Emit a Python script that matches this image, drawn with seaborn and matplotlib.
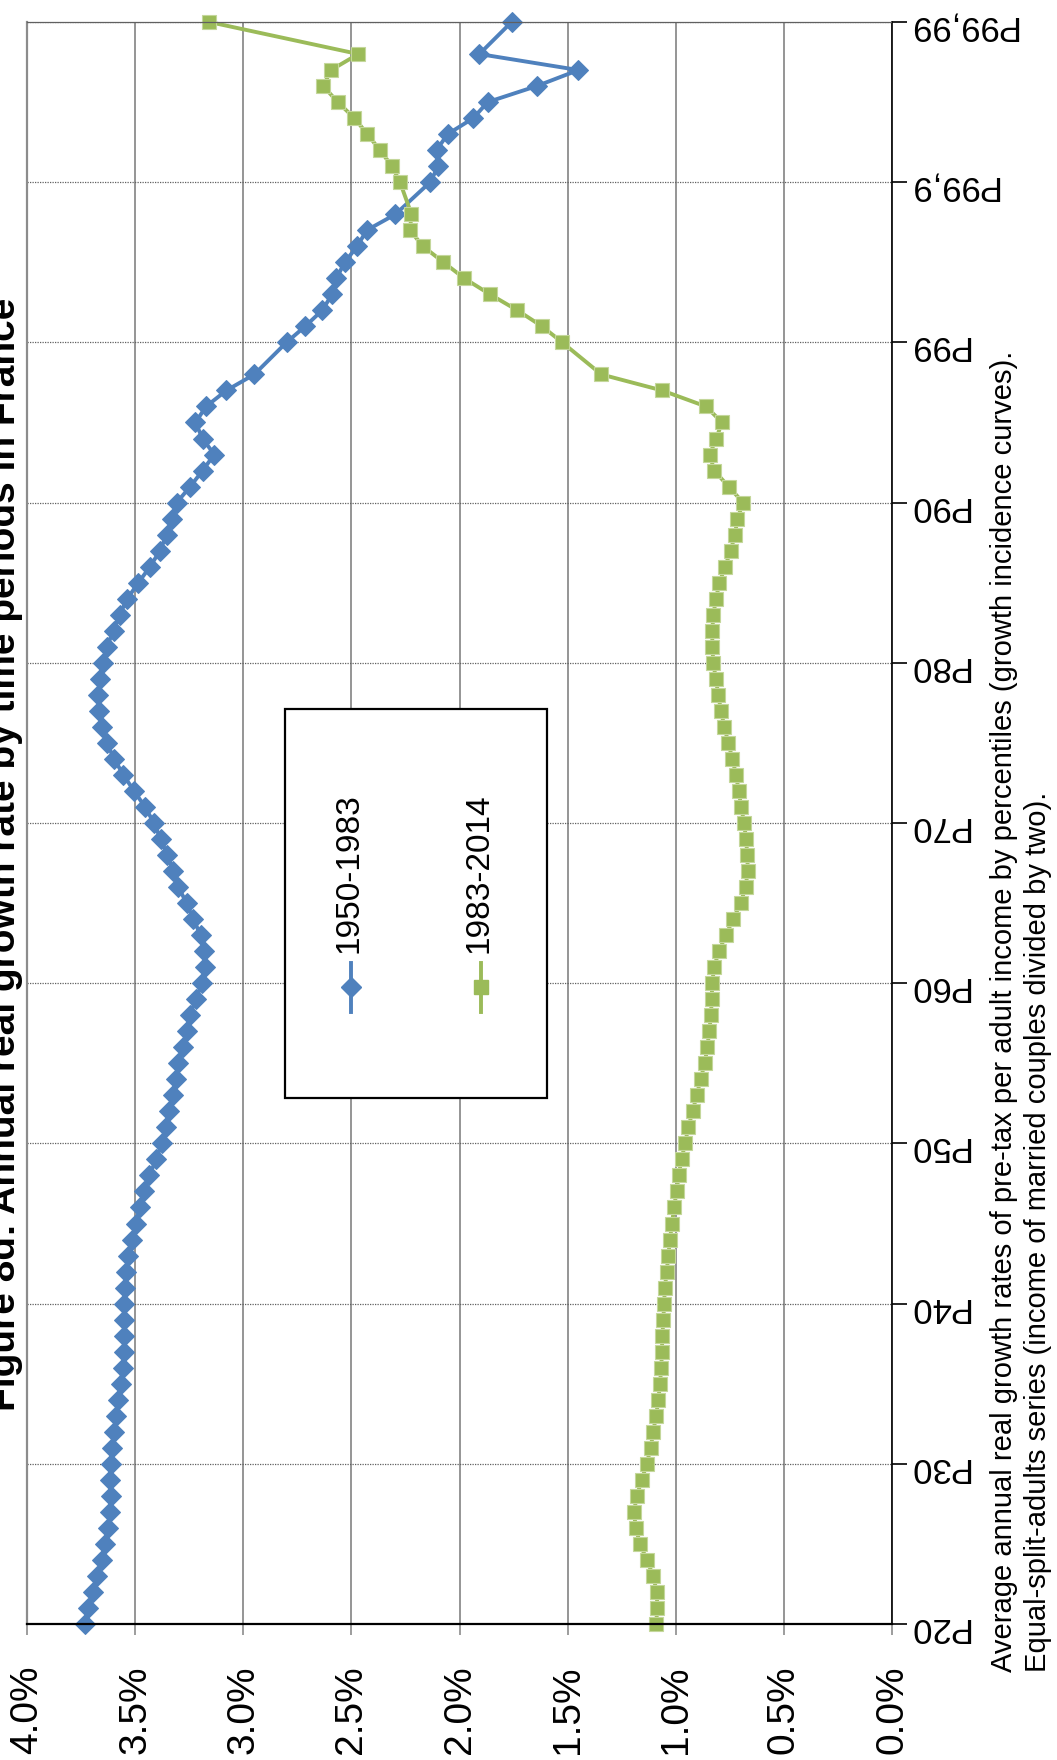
import numpy as np
import pandas as pd
import seaborn as sns
import matplotlib
matplotlib.use("Agg")
import matplotlib.pyplot as plt
from matplotlib.patches import Rectangle
from matplotlib.lines import Line2D

nan = np.nan

# category axis of g-percentiles ("" = empty slot on the Excel category axis)
categories = ([f"P{p}" for p in range(20, 99)] + [""] + ["P99"]
              + [f"P99.{d}" for d in range(1, 9)] + [""] + ["P99.9"]
              + [f"P99.9{d}" for d in range(1, 9)] + [""] + ["P99.99"])

tick_cats = ["P20", "P30", "P40", "P50", "P60", "P70", "P80", "P90", "P99", "P99.9", "P99.99"]
tick_text = ["P20", "P30", "P40", "P50", "P60", "P70", "P80", "P90", "P99", "P99,9", "P99,99"]

# annual real growth rate, %
growth_1950_1983 = [
    3.732, 3.716, 3.696, 3.675, 3.655, 3.639, 3.624, 3.616, 3.613, 3.616,
    3.613, 3.608, 3.597, 3.588, 3.577, 3.567, 3.557, 3.551, 3.551, 3.551,
    3.551, 3.547, 3.542, 3.531, 3.516, 3.496, 3.477, 3.459, 3.434, 3.403,
    3.377, 3.357, 3.342, 3.326, 3.311, 3.300, 3.280, 3.262, 3.246, 3.220,
    3.190, 3.177, 3.182, 3.197, 3.231, 3.262, 3.300, 3.323, 3.351, 3.382,
    3.413, 3.454, 3.505, 3.554, 3.597, 3.631, 3.655, 3.665, 3.670, 3.662,
    3.650, 3.631, 3.600, 3.572, 3.536, 3.485, 3.431, 3.385, 3.354, 3.331,
    3.308, 3.245, 3.188, 3.134, 3.188, 3.221, 3.172, 3.078, 2.949, nan,
    2.800, 2.714, 2.635, 2.589, 2.569, 2.531, 2.473, 2.429, 2.296, nan,
    2.136, 2.098, 2.106, 2.055, 1.936, 1.870, 1.643, 1.450, 1.908, nan,
    1.759]

growth_1983_2014 = [
    1.091, 1.085, 1.088, 1.104, 1.134, 1.165, 1.185, 1.193, 1.180, 1.157,
    1.134, 1.116, 1.104, 1.091, 1.080, 1.073, 1.067, 1.064, 1.062, 1.057,
    1.054, 1.050, 1.042, 1.034, 1.027, 1.017, 1.008, 0.996, 0.987, 0.973,
    0.957, 0.942, 0.922, 0.903, 0.885, 0.866, 0.854, 0.845, 0.837, 0.834,
    0.831, 0.823, 0.800, 0.769, 0.734, 0.700, 0.677, 0.667, 0.669, 0.675,
    0.684, 0.697, 0.709, 0.721, 0.738, 0.757, 0.775, 0.791, 0.803, 0.815,
    0.826, 0.831, 0.831, 0.826, 0.814, 0.798, 0.772, 0.746, 0.726, 0.715,
    0.688, 0.756, 0.822, 0.843, 0.813, 0.786, 0.860, 1.063, 1.344, nan,
    1.525, 1.618, 1.732, 1.859, 1.978, 2.074, 2.169, 2.229, 2.222, nan,
    2.275, 2.312, 2.368, 2.426, 2.486, 2.563, 2.630, 2.594, 2.468, nan,
    3.157]

series_names = ["1950-1983", "1983-2014"]
title = "Figure 8d: Annual real growth rate by time periods in France"
note1 = ("Average annual real growth rates of pre-tax per adult income by "
         "percentiles (growth incidence curves).")
note2 = "Equal-split-adults series (income of married couples divided by two)."

BLUE = "#4F81BD"
GREEN = "#9BBB59"
W, H = 1057, 1760

plt.rcParams["font.family"] = ["Liberation Sans", "DejaVu Sans"]

df = pd.DataFrame({"slot": np.arange(len(categories)),
                   "g1": growth_1950_1983, "g2": growth_1983_2014})

fig = plt.figure(figsize=(W / 100, H / 100), dpi=100)
ax = fig.add_axes([27 / W, 1 - 1624 / H, (892 - 27) / W, (1624 - 22) / H])

sns.lineplot(data=df.dropna(subset=["g1"]), x="g1", y="slot", orient="y",
             sort=False, estimator=None, color=BLUE, lw=2.8, marker="D",
             markersize=10, markeredgecolor=BLUE, ax=ax)
sns.lineplot(data=df.dropna(subset=["g2"]), x="g2", y="slot", orient="y",
             sort=False, estimator=None, color=GREEN, lw=2.8, marker="s",
             markersize=9.8, markeredgecolor="#c4d79b", markeredgewidth=0.8, ax=ax)
for ln in ax.lines:
    ln.set_clip_on(False)

ax.set_xlim(4, 0)
ax.set_ylim(0, len(categories) - 1)
ax.set_xlabel("")
ax.set_ylabel("")

xt = np.arange(0, 4.01, 0.5)
ax.set_xticks(xt)
ax.set_xticklabels([f"{v:.1f}%" for v in xt])
ax.set_yticks([categories.index(c) for c in tick_cats])
ax.set_yticklabels(tick_text)
ax.yaxis.tick_right()

ax.grid(axis="x", color="#8c8c8c", lw=1.3, ls="-")
ax.grid(axis="y", color="#606060", lw=0.9, ls=(0, (1, 1)))
ax.set_axisbelow(True)

ax.tick_params(axis="x", direction="out", length=8, width=1.2, color="#8c8c8c",
               labelsize=28, pad=22, labelrotation=90)
ax.tick_params(axis="y", direction="out", length=11, width=1.2, color="black",
               labelsize=25, pad=0, labelrotation=180, left=False, right=True)

ax.spines["left"].set_color("#8c8c8c")
ax.spines["left"].set_linewidth(1.6)
ax.spines["right"].set_color("black")
ax.spines["right"].set_linewidth(1.2)
ax.spines["bottom"].set_color("black")
ax.spines["bottom"].set_linewidth(1.6)
ax.spines["top"].set_color("#606060")
ax.spines["top"].set_linewidth(0.9)
ax.spines["top"].set_linestyle((0, (1, 1)))

# legend box (drawn by hand so that the entries can stand vertical)
fig.add_artist(Rectangle((285 / W, 1 - 1098 / H), (547 - 285) / W, (1098 - 709) / H,
                         transform=fig.transFigure, facecolor="white",
                         edgecolor="black", lw=1.6, zorder=5))
for xc, col, mk, ms, name in [(350.7, BLUE, "D", 10, series_names[0]),
                              (481, GREEN, "s", 9.8, series_names[1])]:
    fig.add_artist(Line2D([xc / W] * 3, [1 - 963 / H, 1 - 987.5 / H, 1 - 1012 / H],
                          transform=fig.transFigure, color=col, lw=2.8,
                          marker=mk, markersize=ms, markevery=[1],
                          markeredgecolor=col, zorder=6))
    fig.text((xc - 2) / W, 1 - 953 / H, name, rotation=90, ha="center",
             va="bottom", fontsize=24, zorder=6)

fig.text(23 / W, 1 - 854 / H, title, rotation=90, ha="right", va="center",
         fontsize=28, fontweight="bold")
fig.text(1004 / W, 1 - 1672 / H, note1, rotation=90, ha="center", va="bottom",
         fontsize=21)
fig.text(1038 / W, 1 - 1672 / H, note2, rotation=90, ha="center", va="bottom",
         fontsize=21)

fig.savefig("out.png", dpi=100)
